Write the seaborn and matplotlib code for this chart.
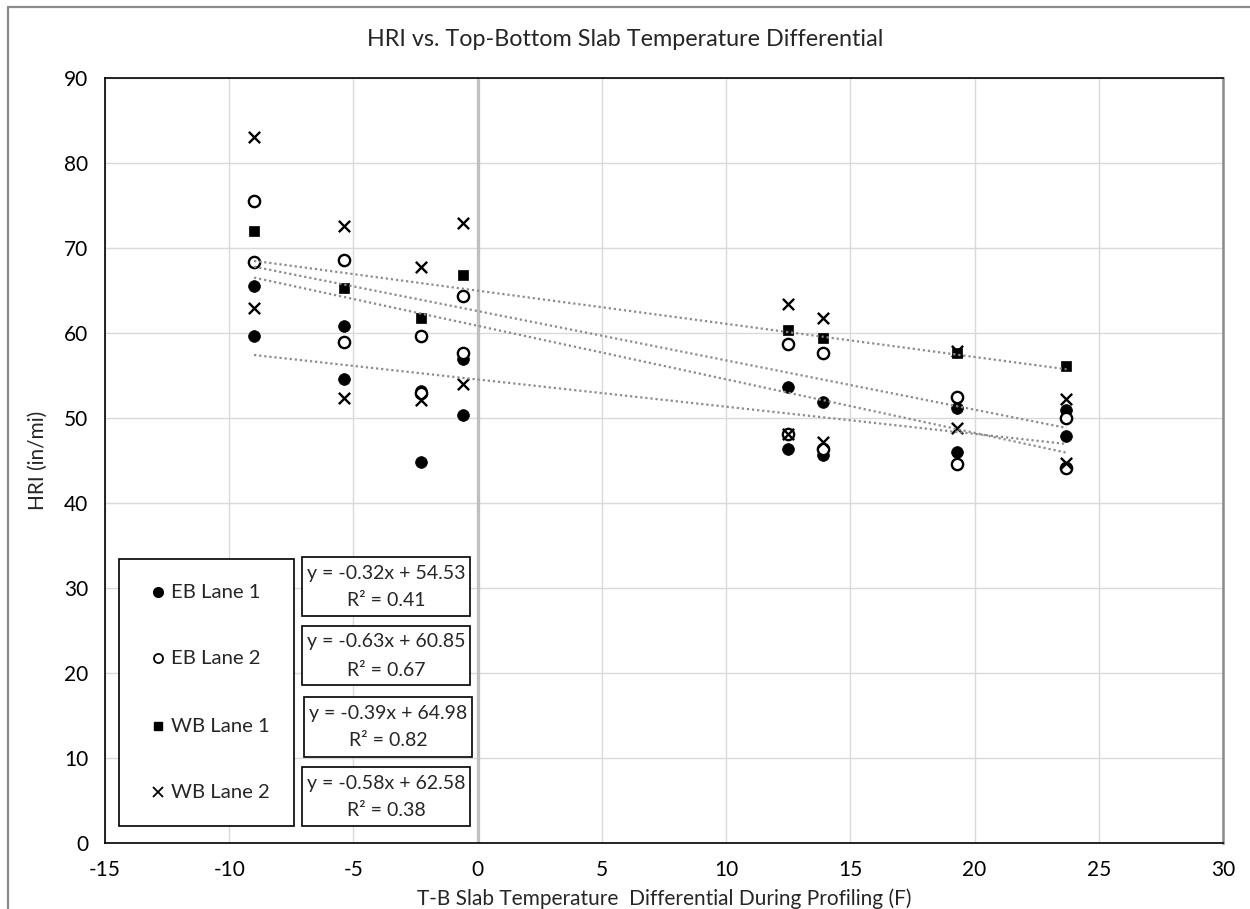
import numpy as np
import pandas as pd
import matplotlib
matplotlib.use("Agg")
import matplotlib.pyplot as plt
from matplotlib.patches import Rectangle
from matplotlib.lines import Line2D
import seaborn as sns

# Temperature differential (F) at each profiling run
temp_diff = [-9.0, -5.4, -2.3, -0.6, 12.5, 13.9, 19.3, 23.7]

# HRI (in/mi) readings, two runs per temperature for lanes with repeat passes
eb_lane1_a = [65.5, 60.8, 53.2, 57.0, 53.6, 51.9, 51.2, 51.0]
eb_lane1_b = [59.7, 54.6, 44.8, 50.3, 46.3, 45.6, 46.0, 47.9]
eb_lane2_a = [75.5, 68.6, 59.6, 64.4, 58.7, 57.6, 52.5, 50.0]
eb_lane2_b = [68.4, 58.9, 52.9, 57.6, 48.1, 46.3, 44.6, 44.1]
wb_lane1 = [72.0, 65.3, 61.8, 66.8, 60.4, 59.4, 57.7, 56.1]
wb_lane2_a = [83.1, 72.6, 67.8, 73.0, 63.4, 61.8, 57.9, 52.2]
wb_lane2_b = [62.9, 52.3, 52.1, 54.0, 48.1, 47.2, 48.8, 44.7]

series_names = ["EB Lane 1", "EB Lane 2", "WB Lane 1", "WB Lane 2"]
# Linear trendline coefficients and R² per series
slopes = [-0.32, -0.63, -0.39, -0.58]
intercepts = [54.53, 60.85, 64.98, 62.58]
r_squared = [0.41, 0.67, 0.82, 0.38]

x_ticks = [-15, -10, -5, 0, 5, 10, 15, 20, 25, 30]
y_ticks = [0, 10, 20, 30, 40, 50, 60, 70, 80, 90]

rows = []
for name, runs in [("EB Lane 1", [eb_lane1_a, eb_lane1_b]),
                   ("EB Lane 2", [eb_lane2_a, eb_lane2_b]),
                   ("WB Lane 1", [wb_lane1]),
                   ("WB Lane 2", [wb_lane2_a, wb_lane2_b])]:
    for run in runs:
        for xv, yv in zip(temp_diff, run):
            rows.append({"series": name, "x": xv, "y": yv})
df = pd.DataFrame(rows)

sns.set_style("white")
plt.rcParams["font.family"] = ["Lato", "DejaVu Sans"]
plt.rcParams["axes.unicode_minus"] = False

W, H = 1250, 909
fig = plt.figure(figsize=(W / 100, H / 100), dpi=100)


def fx(px):
    return px / W


def fy(py):
    return 1 - py / H


ax = fig.add_axes([fx(105), fy(843), fx(1223) - fx(105), fy(78) - fy(843)])

styles = {
    "EB Lane 1": dict(marker="o", s=72, color="black", edgecolor="black", linewidth=0.5),
    "EB Lane 2": dict(marker="o", s=66, facecolor="white", edgecolor="black", linewidth=1.7),
    "WB Lane 1": dict(marker="s", s=58, color="black", edgecolor="black", linewidth=0.5),
    "WB Lane 2": dict(marker="x", s=66, color="black", linewidth=1.7),
}

for i, name in enumerate(series_names):
    sub = df[df["series"] == name]
    sns.scatterplot(data=sub, x="x", y="y", ax=ax, legend=False,
                    zorder=3 + i * 0.1, **styles[name])

# Trendlines from the fitted equations, over the data range
xr = np.array([min(temp_diff), max(temp_diff)])
for m, b in zip(slopes, intercepts):
    ax.plot(xr, m * xr + b, color="#8c8c8c", lw=1.6,
            linestyle=(0, (1, 1.3)), zorder=5)

ax.set_xlim(-15, 30)
ax.set_ylim(0, 90)
ax.set_xticks(x_ticks)
ax.set_yticks(y_ticks)
ax.grid(True, color="#d9d9d9", lw=1)
ax.set_axisbelow(True)
ax.axvline(0, color="#bfbfbf", lw=2.4, zorder=1.5)
ax.tick_params(axis="both", length=0, labelsize=15, pad=12, colors="black")
for side in ["left", "top", "bottom"]:
    ax.spines[side].set_color("black")
    ax.spines[side].set_linewidth(1.2)
ax.spines["right"].set_color("#8a8a8a")
ax.spines["right"].set_linewidth(1.8)

ax.set_xlabel("T-B Slab Temperature  Differential During Profiling (F)",
              fontsize=15, labelpad=6)
ax.set_ylabel("HRI (in/mi)", fontsize=15, labelpad=12)
fig.text(fx(625), fy(40), "HRI vs. Top-Bottom Slab Temperature Differential",
         ha="center", va="center", fontsize=16.8)

# Legend panel
fig.patches.append(Rectangle((fx(119), fy(826)), fx(294) - fx(119), fy(559) - fy(826),
                             transform=fig.transFigure, fc="white", ec="black",
                             lw=1.2, zorder=10))
leg_y = [592, 658, 726, 792]
leg_marker = [
    dict(marker="o", ms=7, mfc="black", mec="black"),
    dict(marker="o", ms=6.5, mfc="white", mec="black", mew=1.3),
    dict(marker="s", ms=6, mfc="black", mec="black"),
    dict(marker="x", ms=6.5, mec="black", mew=1.3),
]
for name, yy, mk in zip(series_names, leg_y, leg_marker):
    fig.lines.append(Line2D([fx(158)], [fy(yy)], transform=fig.transFigure,
                            linestyle="none", zorder=11, **mk))
    fig.text(fx(171), fy(yy), name, ha="left", va="center", fontsize=14.6, zorder=11)

# Equation boxes: (left, top, right, bottom) in pixels
eq_boxes = [(302, 557, 470, 616), (302, 626, 470, 685),
            (304, 697, 472, 757), (302, 767, 470, 826)]
for m, b, r2, (l, t, r, bt) in zip(slopes, intercepts, r_squared, eq_boxes):
    fig.patches.append(Rectangle((fx(l), fy(bt)), fx(r) - fx(l), fy(t) - fy(bt),
                                 transform=fig.transFigure, fc="white", ec="black",
                                 lw=1.2, zorder=10))
    cx = (l + r) / 2
    fig.text(fx(cx), fy(t + 16), f"y = {m:.2f}x + {b:.2f}", ha="center",
             va="center", fontsize=14, zorder=11)
    fig.text(fx(cx), fy(t + 44), f"R² = {r2:.2f}", ha="center",
             va="center", fontsize=14, zorder=11)

# Outer chart frame edges
fig.lines.append(Line2D([fx(8), 1], [fy(7), fy(7)], transform=fig.transFigure,
                        color="#8a8a8a", lw=1.6))
fig.lines.append(Line2D([fx(8), fx(8)], [fy(7), 0], transform=fig.transFigure,
                        color="#8a8a8a", lw=1.6))

fig.savefig("out.png", dpi=100, facecolor="white")
